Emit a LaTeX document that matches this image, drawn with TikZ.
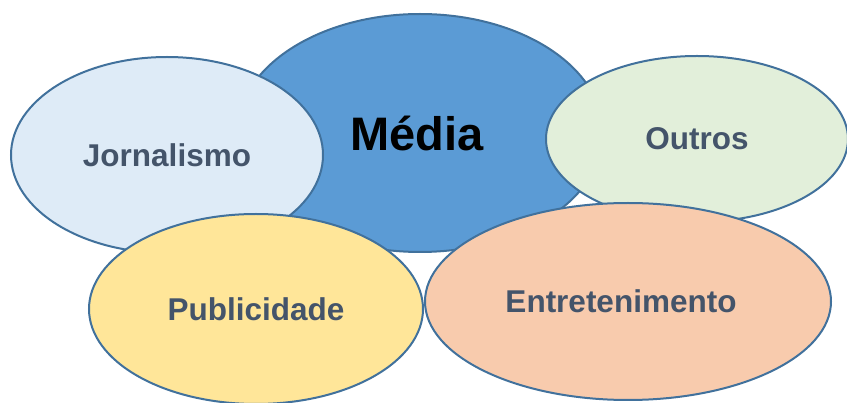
\documentclass[tikz,border=0pt]{standalone}
\usepackage{fontspec}
\setmainfont{Liberation Sans}
\usetikzlibrary{positioning,shapes}
\definecolor{myblue}{RGB}{91,155,213}
\definecolor{myline}{RGB}{65,113,156}
\definecolor{mylightblue}{RGB}{222,235,247}
\definecolor{mygreen}{RGB}{226,239,218}
\definecolor{myyellow}{RGB}{255,230,153}
\definecolor{myorange}{RGB}{248,203,173}
\definecolor{mytext}{RGB}{68,84,106}
\tikzstyle{bubble}=[ellipse,draw=myline,line width=2pt,inner sep=0pt,text=mytext,font=\fontsize{31.5}{36}\selectfont\bfseries]
\tikzstyle{core}=[bubble,fill=myblue,text=black,font=\fontsize{47}{52}\selectfont\bfseries]

\begin{document}
\begin{tikzpicture}[x=1pt,y=-1pt]
      \useasboundingbox (0,0) rectangle (847,403);
      \node (M) [core,minimum width=366pt,minimum height=238pt] at (420,133) {\hspace*{-6pt}Média};
      \node (J) [bubble,fill=mylightblue,minimum width=312pt,minimum height=196pt] at (167,155) {Jornalismo};
      \node (O) [bubble,fill=mygreen,minimum width=302pt,minimum height=166pt] at (697,139) {Outros};
      \node (P) [bubble,fill=myyellow,minimum width=334pt,minimum height=190pt] at (256,309) {Publicidade};
      \node (E) [bubble,fill=myorange,minimum width=406pt,minimum height=197pt] at (628,301.5) {\hspace*{-14pt}Entretenimento};
    \end{tikzpicture}
\end{document}
